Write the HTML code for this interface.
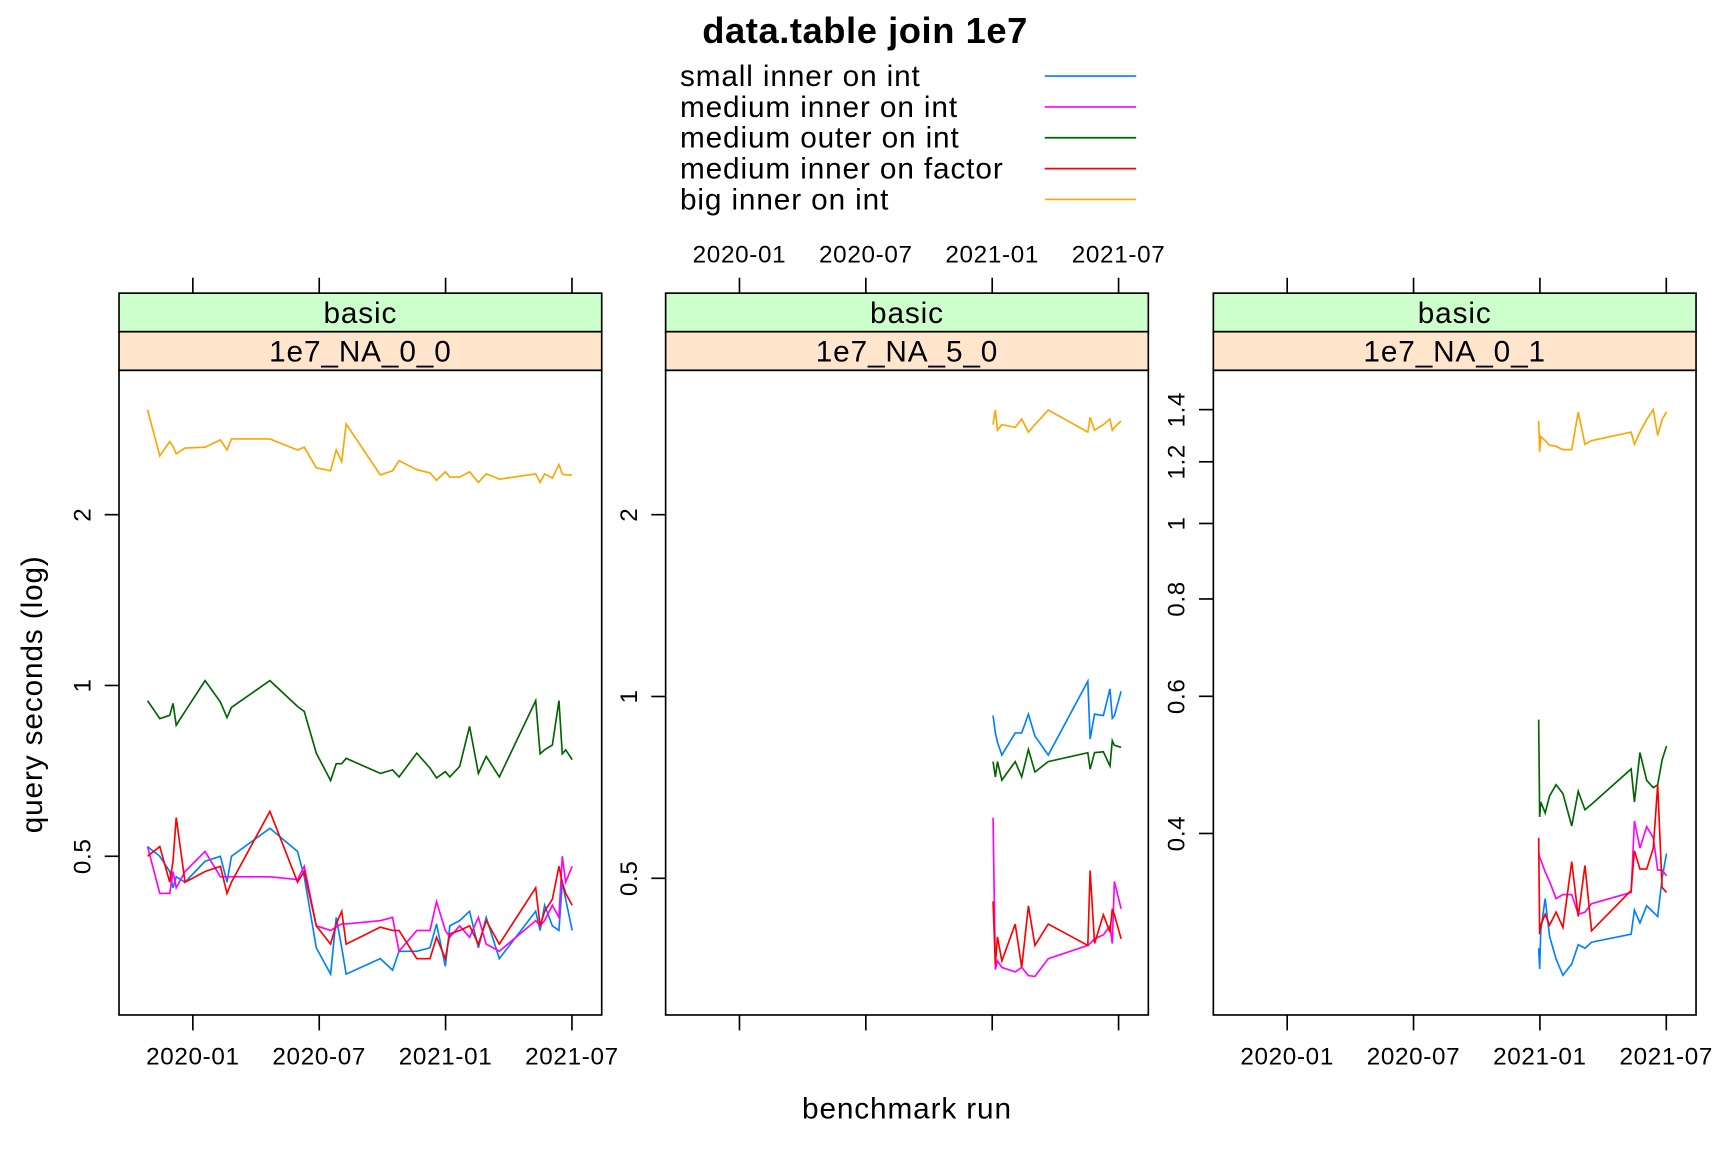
<!DOCTYPE html>
<html><head><meta charset="utf-8"><style>html,body{margin:0;padding:0;background:#fff}svg{display:block}</style></head>
<body>
<svg id="chart" width="1728" height="1152" viewBox="0 0 1568 1045.33" xmlns="http://www.w3.org/2000/svg" font-family="'Liberation Sans', sans-serif"></svg>
<script>
// categories / legend
const seriesNames = ["small inner on int","medium inner on int","medium outer on int","medium inner on factor","big inner on int"];
const seriesColors = ["#0080ff","#ff00ff","#006400","#ff0000","#ffa500"];
const panelNames = ["1e7_NA_0_0","1e7_NA_5_0","1e7_NA_0_1"];
const xTickLabels = ["2020-01","2020-07","2021-01","2021-07"];
const xTickMonths = [0,6,12,18];
const p1YTicks = [0.5,1,2];
const p2YTicks = [0.5,1,2];
const p3YTicks = [0.4,0.6,0.8,1,1.2,1.4];
const p3YTickLabels = ["0.4","0.6","0.8","1","1.2","1.4"];
// dates in months since 2020-01
const p1Dates = [-2.15,-1.57,-1.1,-0.94,-0.79,-0.37,0.58,1.31,1.62,1.83,3.66,4.97,5.29,5.86,6.54,6.81,7.07,7.28,8.9,9.48,9.79,10.63,11.26,11.57,11.99,12.2,12.67,13.14,13.56,13.93,14.55,16.28,16.49,16.7,17.07,17.38,17.54,17.7,18.01];
const p1Small = [0.52,0.50,0.47,0.44,0.46,0.45,0.49,0.50,0.45,0.50,0.56,0.51,0.46,0.345,0.31,0.39,0.345,0.31,0.33,0.315,0.34,0.34,0.345,0.38,0.32,0.377,0.385,0.40,0.345,0.39,0.33,0.40,0.37,0.41,0.377,0.37,0.45,0.42,0.37];
const p1MedInner = [0.52,0.43,0.43,0.47,0.44,0.47,0.51,0.46,0.46,0.46,0.46,0.455,0.48,0.377,0.37,0.375,0.38,0.38,0.385,0.39,0.34,0.37,0.37,0.416,0.37,0.36,0.377,0.36,0.39,0.35,0.34,0.385,0.377,0.385,0.41,0.39,0.50,0.45,0.48];
const p1MedOuter = [0.94,0.874,0.886,0.93,0.851,0.90,1.02,0.935,0.878,0.915,1.02,0.918,0.90,0.76,0.68,0.728,0.728,0.744,0.70,0.71,0.69,0.76,0.715,0.687,0.705,0.69,0.72,0.847,0.70,0.75,0.69,0.94,0.758,0.77,0.785,0.94,0.758,0.77,0.74];
const p1Factor = [0.50,0.52,0.45,0.49,0.585,0.45,0.47,0.48,0.43,0.45,0.60,0.45,0.47,0.377,0.35,0.38,0.40,0.35,0.375,0.37,0.37,0.33,0.33,0.36,0.33,0.365,0.37,0.377,0.35,0.385,0.35,0.44,0.377,0.40,0.42,0.48,0.45,0.43,0.41];
const p1Big = [3.06,2.54,2.69,2.64,2.56,2.62,2.63,2.71,2.60,2.72,2.72,2.60,2.63,2.42,2.39,2.60,2.48,2.89,2.35,2.39,2.49,2.40,2.37,2.30,2.38,2.33,2.33,2.38,2.28,2.36,2.31,2.36,2.28,2.36,2.32,2.45,2.36,2.35,2.35];
const p2Dates = [12.04,12.15,12.25,12.46,13.09,13.4,13.72,14.03,14.66,16.54,16.65,16.86,17.28,17.59,17.7,17.8,18.12];
const p2Small = [0.93,0.87,0.84,0.80,0.87,0.87,0.935,0.86,0.80,1.06,0.85,0.935,0.93,1.03,0.92,0.93,1.02];
const p2MedInner = [0.63,0.353,0.365,0.356,0.35,0.356,0.345,0.344,0.368,0.387,0.39,0.397,0.403,0.417,0.39,0.494,0.445];
const p2MedOuter = [0.78,0.736,0.78,0.727,0.78,0.736,0.817,0.75,0.78,0.807,0.758,0.807,0.81,0.767,0.845,0.83,0.824];
const p2Factor = [0.458,0.36,0.40,0.365,0.42,0.356,0.45,0.387,0.42,0.387,0.515,0.39,0.435,0.407,0.445,0.435,0.397];
const p2Big = [2.82,2.98,2.76,2.82,2.79,2.88,2.74,2.82,2.98,2.74,2.90,2.76,2.82,2.88,2.76,2.79,2.86];
const p3Dates = [11.94,11.99,12.04,12.25,12.46,12.77,13.09,13.51,13.82,14.14,14.45,16.33,16.49,16.75,17.07,17.38,17.59,17.8,18.01];
const p3Small = [0.285,0.268,0.30,0.33,0.295,0.276,0.263,0.272,0.288,0.285,0.29,0.297,0.319,0.307,0.323,0.317,0.313,0.35,0.377];
const p3MedInner = [0.377,0.373,0.37,0.357,0.347,0.33,0.334,0.334,0.315,0.317,0.325,0.336,0.415,0.383,0.408,0.395,0.359,0.359,0.353];
const p3MedOuter = [0.56,0.42,0.439,0.425,0.447,0.462,0.45,0.409,0.453,0.429,0.436,0.484,0.439,0.508,0.468,0.458,0.462,0.497,0.518];
const p3Factor = [0.395,0.297,0.305,0.315,0.305,0.317,0.303,0.368,0.313,0.364,0.30,0.338,0.38,0.36,0.36,0.383,0.462,0.341,0.336];
const p3Big = [1.354,1.236,1.293,1.277,1.26,1.256,1.244,1.244,1.39,1.264,1.277,1.31,1.264,1.31,1.36,1.40,1.297,1.36,1.39];

const NS = "http://www.w3.org/2000/svg";
const svg = document.getElementById("chart");
function mk(tag, attrs, parent) {
  const e = document.createElementNS(NS, tag);
  for (const k in attrs) e.setAttribute(k, attrs[k]);
  (parent || svg).appendChild(e);
  return e;
}
const panels = [
  {left:108, y0:622, k:223.6, ticks:p1YTicks, tickLabels:p1YTicks.map(String), dates:p1Dates, series:[p1Small,p1MedInner,p1MedOuter,p1Factor,p1Big], bottomLabels:true, topLabels:false},
  {left:604, y0:632, k:238, ticks:p2YTicks, tickLabels:p2YTicks.map(String), dates:p2Dates, series:[p2Small,p2MedInner,p2MedOuter,p2Factor,p2Big], bottomLabels:false, topLabels:true},
  {left:1101, y0:475, k:307, ticks:p3YTicks, tickLabels:p3YTickLabels, dates:p3Dates, series:[p3Small,p3MedInner,p3MedOuter,p3Factor,p3Big], bottomLabels:true, topLabels:false}
];
const W = 438, TOP = 336, BOT = 921;

// title
let t = mk("text", {x:785, y:39, "text-anchor":"middle", "font-size":33, "font-weight":"bold", "letter-spacing":0.5});
t.textContent = "data.table join 1e7";



// legend
seriesNames.forEach((n, i) => {
  const y = 69 + i * 28;
  const g = mk("g", {});
  
  
  const tx = mk("text", {x:617, y:y + 9, "font-size":27, "letter-spacing":0.8}, g);
  tx.textContent = n;
  mk("line", {x1:948, x2:1031, y1:y, y2:y, stroke:seriesColors[i], "stroke-width":1.5}, g);
});

// axis titles
t = mk("text", {x:823, y:1015, "text-anchor":"middle", "font-size":27, "letter-spacing":0.8});
t.textContent = "benchmark run";


t = mk("text", {x:0, y:0, "text-anchor":"middle", "font-size":27, "letter-spacing":0.8, transform:"translate(38,630) rotate(-90)"});
t.textContent = "query seconds (log)";



const defs = mk("defs", {});
panels.forEach((p, pi) => {
  const g = mk("g", {});
  
  
  const xs = m => p.left + 67 + m * (344 / 18);
  const ys = v => p.y0 - p.k * Math.log(v);
  // strips
  mk("rect", {x:p.left, y:266, width:W, height:35, fill:"#ccffcc", stroke:"#000", "stroke-width":1.5}, g);
  let s = mk("text", {x:p.left + W/2, y:293, "text-anchor":"middle", "font-size":27, "letter-spacing":0.8}, g);
  s.textContent = "basic";
  mk("rect", {x:p.left, y:301, width:W, height:35, fill:"#ffe5cc", stroke:"#000", "stroke-width":1.5}, g);
  s = mk("text", {x:p.left + W/2, y:328, "text-anchor":"middle", "font-size":27, "letter-spacing":0.8}, g);
  s.textContent = panelNames[pi];
  // clip
  const cp = mk("clipPath", {id:"clip" + pi}, defs);
  mk("rect", {x:p.left, y:TOP, width:W, height:BOT - TOP}, cp);
  // series
  p.series.forEach((vals, si) => {
    const d = vals.map((v, i) => (i ? "L" : "M") + xs(p.dates[i]).toFixed(1) + "," + ys(v).toFixed(1)).join(" ");
    const path = mk("path", {d:d, fill:"none", stroke:seriesColors[si], "stroke-width":1.5, "clip-path":"url(#clip" + pi + ")"}, g);
    
    
  });
  mk("rect", {x:p.left, y:TOP, width:W, height:BOT - TOP, fill:"none", stroke:"#000", "stroke-width":1.5}, g);
  // x ticks
  xTickMonths.forEach((m, i) => {
    const x = xs(m);
    mk("line", {x1:x, x2:x, y1:BOT, y2:BOT + 14, stroke:"#000", "stroke-width":1.5}, g);
    mk("line", {x1:x, x2:x, y1:252, y2:266, stroke:"#000", "stroke-width":1.5}, g);
    if (p.bottomLabels) {
      const l = mk("text", {x:x, y:966, "text-anchor":"middle", "font-size":22, "letter-spacing":0.6}, g);
      l.textContent = xTickLabels[i];
    }
    if (p.topLabels) {
      const l = mk("text", {x:x, y:238, "text-anchor":"middle", "font-size":22, "letter-spacing":0.6}, g);
      l.textContent = xTickLabels[i];
    }
  });
  // y ticks
  p.ticks.forEach((v, i) => {
    const y = ys(v);
    mk("line", {x1:p.left - 13, x2:p.left, y1:y, y2:y, stroke:"#000", "stroke-width":1.5}, g);
    const l = mk("text", {x:0, y:0, "text-anchor":"middle", "font-size":22, "letter-spacing":0.6, transform:"translate(" + (p.left - 26) + "," + y + ") rotate(-90)"}, g);
    l.textContent = p.tickLabels[i];
  });
});
</script>
</body></html>
